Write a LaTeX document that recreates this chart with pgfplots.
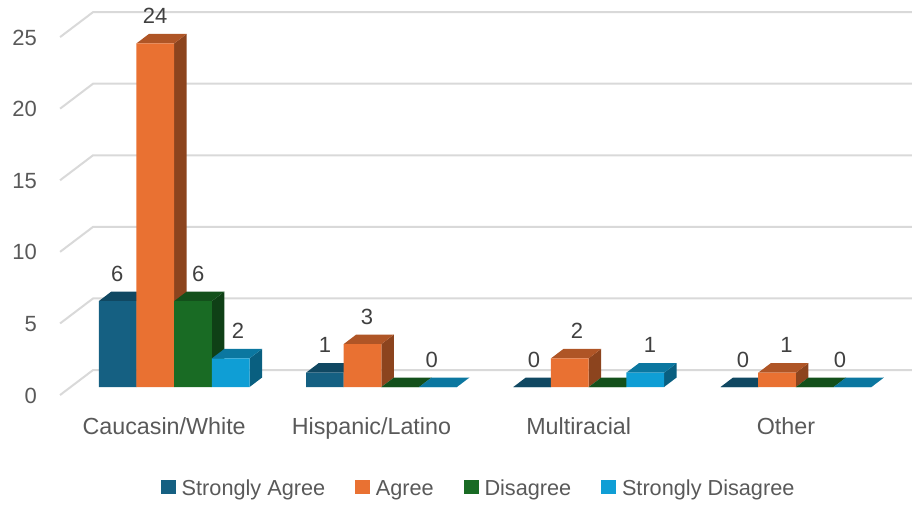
\documentclass[border=0pt]{standalone}
\usepackage{fontspec}
\setmainfont{Liberation Sans}
\usepackage{pgfplots}
\pgfplotsset{compat=1.18}

\definecolor{txt}{HTML}{595959}
\definecolor{lbl}{HTML}{404040}
\definecolor{gridc}{HTML}{D9D9D9}
\definecolor{sa}{HTML}{156082}
\definecolor{satop}{HTML}{104862}
\definecolor{saside}{HTML}{0D3A4E}
\definecolor{ag}{HTML}{E97132}
\definecolor{agtop}{HTML}{AF5526}
\definecolor{agside}{HTML}{8C441E}
\definecolor{di}{HTML}{196B24}
\definecolor{ditop}{HTML}{13501B}
\definecolor{diside}{HTML}{0F4016}
\definecolor{sd}{HTML}{0F9ED5}
\definecolor{sdtop}{HTML}{0B77A0}
\definecolor{sdside}{HTML}{095F80}

% bar width and the 3d depth, in axis units
\def\bw{0.1819}
\def\ddx{0.0603}
\def\ddy{0.663}

% top and side of one bar: left x, value, top colour, side colour
\newcommand\faces[4]{%
  \pgfmathsetmacro\xa{#1}%
  \pgfmathsetmacro\xb{#1+\bw}%
  \pgfmathsetmacro\xc{#1+\ddx}%
  \pgfmathsetmacro\xd{#1+\bw+\ddx}%
  \pgfmathsetmacro\yt{#2+\ddy}%
  \addplot[fill=#4, draw=none, forget plot] coordinates {(\xb,0) (\xd,\ddy) (\xd,\yt) (\xb,#2)};
  \addplot[fill=#3, draw=none, forget plot] coordinates {(\xa,#2) (\xb,#2) (\xd,\yt) (\xc,\yt)};
}

\pgfplotsset{
  sq/.style={legend image code/.code={\fill[##1] (0pt,-7.3pt) rectangle (14.7pt,7.3pt);}},
  gl/.style={color=gridc, line width=2pt, forget plot},
}

\begin{document}
\begin{tikzpicture}
\begin{axis}[
    scale only axis, width=912pt, height=504pt,
    xmin=-0.8398, xmax=3.5596, ymin=-8.17, ymax=27.025,
    axis line style={draw=none}, major tick length=0pt,
    xtick={0,1,2,3},
    xticklabels={Caucasin/White, Hispanic/Latino, Multiracial, Other},
    ytick={0,5,10,15,20,25},
    /pgf/number format/assume math mode=true,
    xticklabel style={anchor=center, xshift=-10pt, yshift=78pt, text height=16pt, text depth=0pt,
        font=\fontsize{23.3}{26}\selectfont, text=txt},
    yticklabel style={anchor=east, xshift=37pt, yshift=-8.5pt, inner sep=0pt,
        font=\fontsize{22}{24}\selectfont, text=txt},
    legend columns=4,
    legend style={
        at={(rel axis cs:0.1765,0.0337)}, anchor=west, draw=none, fill=none,
        inner sep=0pt, outer sep=0pt,
        nodes={inner sep=0pt, text=txt, text height=16pt, text depth=0pt,
            font=\fontsize{21.7}{24}\selectfont},
        /tikz/every odd column/.append style={column sep=6pt},
        /tikz/every even column/.append style={column sep=30pt},
    },
]
    % grid: floor edge, then back wall
    \addplot[gl] coordinates {(-0.5504,-0.559) (-0.3912,1.187) (3.5596,1.187)};
    \addplot[gl] coordinates {(-0.5504,4.441) (-0.3912,6.187) (3.5596,6.187)};
    \addplot[gl] coordinates {(-0.5504,9.441) (-0.3912,11.187) (3.5596,11.187)};
    \addplot[gl] coordinates {(-0.5504,14.441) (-0.3912,16.187) (3.5596,16.187)};
    \addplot[gl] coordinates {(-0.5504,19.441) (-0.3912,21.187) (3.5596,21.187)};
    \addplot[gl] coordinates {(-0.5504,24.441) (-0.3912,26.187) (3.5596,26.187)};

    % Strongly Agree
    \faces{-0.3637}{6}{satop}{saside}
    \faces{0.6363}{1}{satop}{saside}
    \faces{1.6363}{0}{satop}{saside}
    \faces{2.6363}{0}{satop}{saside}
    \addplot[ybar, bar width=37.7pt, bar shift=-56.55pt, fill=sa, draw=none, sq]
        coordinates {(0,6) (1,1) (2,0) (3,0)};

    % Agree
    \faces{-0.1819}{24}{agtop}{agside}
    \faces{0.8181}{3}{agtop}{agside}
    \faces{1.8181}{2}{agtop}{agside}
    \faces{2.8181}{1}{agtop}{agside}
    \addplot[ybar, bar width=37.7pt, bar shift=-18.85pt, fill=ag, draw=none, sq]
        coordinates {(0,24) (1,3) (2,2) (3,1)};

    % Disagree
    \faces{0}{6}{ditop}{diside}
    \faces{1}{0}{ditop}{diside}
    \faces{2}{0}{ditop}{diside}
    \faces{3}{0}{ditop}{diside}
    \addplot[ybar, bar width=37.7pt, bar shift=18.85pt, fill=di, draw=none, sq]
        coordinates {(0,6) (1,0) (2,0) (3,0)};

    % Strongly Disagree
    \faces{0.1819}{2}{sdtop}{sdside}
    \faces{1.1819}{0}{sdtop}{sdside}
    \faces{2.1819}{1}{sdtop}{sdside}
    \faces{3.1819}{0}{sdtop}{sdside}
    \addplot[ybar, bar width=37.7pt, bar shift=56.55pt, fill=sd, draw=none, sq]
        coordinates {(0,2) (1,0) (2,1) (3,0)};

    % data labels (one zero per group is missing in the original)
    \addplot[draw=none, mark=none, forget plot, point meta=explicit symbolic,
        nodes near coords,
        every node near coord/.append style={anchor=center, yshift=27.3pt, inner sep=0pt,
            text=lbl, font=\fontsize{22}{24}\selectfont}]
        coordinates {
            (-0.275,6)[6] (-0.092,24)[24] (0.116,6)[6] (0.308,2)[2]
            (0.728,1)[1] (0.930,3)[3] (1.243,0)[0]
            (1.736,0)[0] (1.944,2)[2] (2.296,1)[1]
            (2.744,0)[0] (2.955,1)[1] (3.212,0)[0]
        };

    \legend{Strongly Agree, Agree, Disagree, Strongly Disagree}
\end{axis}
\end{tikzpicture}
\end{document}
